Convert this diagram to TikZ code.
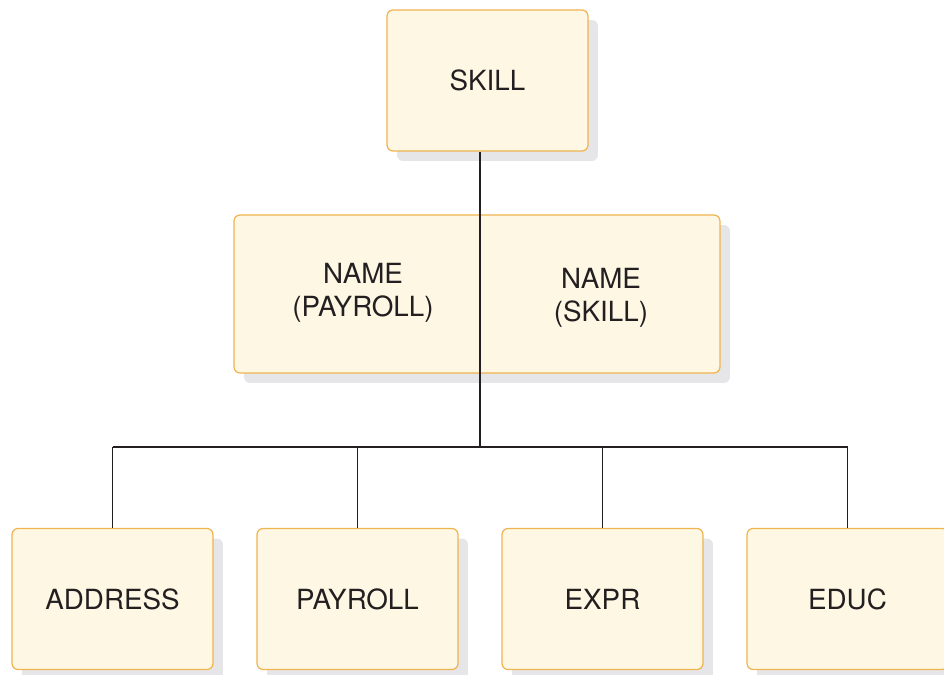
\documentclass[tikz,border=0pt]{standalone}
\usepackage{fontspec}
\setmainfont{TeX Gyre Heros}
\usetikzlibrary{shadows}
\definecolor{boxfill}{HTML}{FDF7E4}
\definecolor{boxline}{HTML}{F0B450}
\definecolor{shadowgray}{HTML}{E6E6E8}
\definecolor{inkgray}{HTML}{231F20}

\tikzset{
  segbox/.style={rectangle, rounded corners=0.12cm, draw=boxline, fill=boxfill, line width=0.7pt,
    drop shadow={shadow xshift=0.2cm, shadow yshift=-0.2cm, fill=shadowgray, opacity=1},
    text=inkgray, align=center, font=\fontsize{15.8}{19}\selectfont},
  segtext/.style={text=inkgray, align=center, font=\fontsize{15.8}{19}\selectfont},
  link/.style={draw=inkgray, line width=0.7pt}
}

\begin{document}
\begin{tikzpicture}[x=0.02cm, y=-0.02cm]
\useasboundingbox (0,0) rectangle (944,675);
\clip (0,0) rectangle (944,675);

\node[segbox, minimum width=4.02cm, minimum height=2.82cm] (skill) at (487.5,80.5) {SKILL};
\node[segbox, minimum width=9.72cm, minimum height=3.16cm] (name) at (477,294) {};
\node[segtext] (namepay) at (363,293) {NAME\\(PAYROLL)};
\node[segtext] (nameskill) at (601,298) {NAME\\(SKILL)};

\node[segbox, minimum width=4.02cm, minimum height=2.82cm] (address) at (112.5,599) {ADDRESS};
\node[segbox, minimum width=4.02cm, minimum height=2.82cm] (payroll) at (357.5,599) {PAYROLL};
\node[segbox, minimum width=4.02cm, minimum height=2.82cm] (expr) at (602.5,599) {EXPR};
\node[segbox, minimum width=4.02cm, minimum height=2.82cm] (educ) at (847.5,599) {EDUC};

\coordinate (junction) at (480,447);

\path[link] (junction |- skill.south) -- (junction);
\path[link] (address.north |- junction) -- (educ.north |- junction);
\foreach \seg in {address,payroll,expr,educ}
  \path[link] (\seg.north |- junction) -- (\seg.north);

\end{tikzpicture}
\end{document}
